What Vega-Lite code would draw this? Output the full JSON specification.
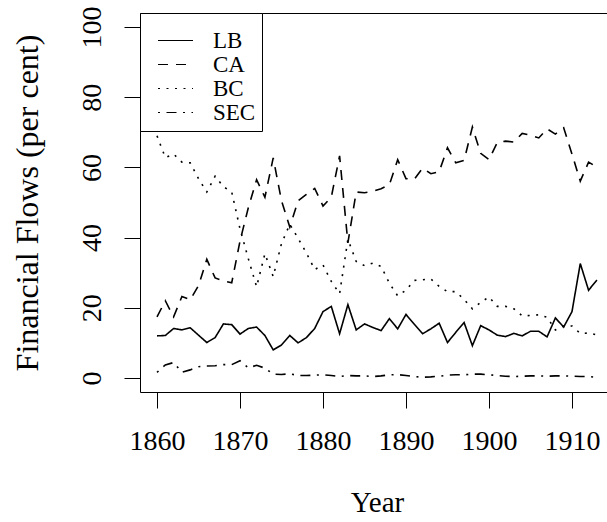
{
  "$schema": "https://vega.github.io/schema/vega-lite/v6.json",
  "width": 467,
  "height": 379,
  "autosize": {"type": "none"},
  "padding": {"left": 140, "top": 13, "right": 0, "bottom": 130},
  "background": "white",
  "config": {
    "view": {"stroke": null},
    "font": "Liberation Serif",
    "axis": {"grid": false, "domainColor": "black", "tickColor": "black", "labelColor": "black", "titleColor": "black", "titleFontWeight": "normal", "domainWidth": 1, "tickWidth": 1, "labelFont": "Liberation Serif", "titleFont": "Liberation Serif"},
    "legend": {"labelFont": "Liberation Serif", "titleFont": "Liberation Serif"},
    "style": {"guide-label": {"font": "Liberation Serif"}, "guide-title": {"font": "Liberation Serif"}}
  },
  "data": {"values": [
    {"year": 1860, "LB": 12.0, "CA": 17.4, "BC": 69.0, "SEC": 1.6},
    {"year": 1861, "LB": 12.1, "CA": 22.0, "BC": 62.8, "SEC": 3.7},
    {"year": 1862, "LB": 14.1, "CA": 17.4, "BC": 63.8, "SEC": 4.4},
    {"year": 1863, "LB": 13.7, "CA": 23.2, "BC": 61.5, "SEC": 1.6},
    {"year": 1864, "LB": 14.3, "CA": 22.3, "BC": 61.3, "SEC": 2.3},
    {"year": 1865, "LB": 12.2, "CA": 26.3, "BC": 56.8, "SEC": 3.2},
    {"year": 1866, "LB": 10.1, "CA": 33.8, "BC": 53.0, "SEC": 3.4},
    {"year": 1867, "LB": 11.5, "CA": 28.5, "BC": 57.5, "SEC": 3.5},
    {"year": 1868, "LB": 15.4, "CA": 27.7, "BC": 54.5, "SEC": 3.8},
    {"year": 1869, "LB": 15.2, "CA": 27.1, "BC": 53.0, "SEC": 3.8},
    {"year": 1870, "LB": 12.5, "CA": 39.0, "BC": 42.5, "SEC": 4.9},
    {"year": 1871, "LB": 14.1, "CA": 48.5, "BC": 34.0, "SEC": 2.9},
    {"year": 1872, "LB": 14.5, "CA": 56.5, "BC": 26.0, "SEC": 3.6},
    {"year": 1873, "LB": 12.1, "CA": 51.5, "BC": 35.4, "SEC": 2.8},
    {"year": 1874, "LB": 8.0, "CA": 62.7, "BC": 28.9, "SEC": 1.1},
    {"year": 1875, "LB": 9.4, "CA": 50.5, "BC": 38.3, "SEC": 1.0},
    {"year": 1876, "LB": 12.1, "CA": 43.0, "BC": 43.8, "SEC": 1.2},
    {"year": 1877, "LB": 10.0, "CA": 50.5, "BC": 39.8, "SEC": 0.7},
    {"year": 1878, "LB": 11.5, "CA": 52.3, "BC": 35.6, "SEC": 0.7},
    {"year": 1879, "LB": 14.1, "CA": 54.0, "BC": 30.9, "SEC": 0.8},
    {"year": 1880, "LB": 18.9, "CA": 49.0, "BC": 32.2, "SEC": 0.9},
    {"year": 1881, "LB": 20.4, "CA": 51.5, "BC": 27.5, "SEC": 0.7},
    {"year": 1882, "LB": 12.6, "CA": 63.3, "BC": 24.0, "SEC": 0.4},
    {"year": 1883, "LB": 20.9, "CA": 38.5, "BC": 39.5, "SEC": 0.7},
    {"year": 1884, "LB": 13.7, "CA": 53.0, "BC": 33.2, "SEC": 0.6},
    {"year": 1885, "LB": 15.4, "CA": 52.8, "BC": 32.0, "SEC": 0.6},
    {"year": 1886, "LB": 14.4, "CA": 53.2, "BC": 32.7, "SEC": 0.4},
    {"year": 1887, "LB": 13.5, "CA": 53.9, "BC": 31.8, "SEC": 0.6},
    {"year": 1888, "LB": 16.9, "CA": 55.1, "BC": 27.0, "SEC": 0.9},
    {"year": 1889, "LB": 14.0, "CA": 62.2, "BC": 23.4, "SEC": 0.95},
    {"year": 1890, "LB": 18.1, "CA": 56.8, "BC": 25.0, "SEC": 0.7},
    {"year": 1891, "LB": 15.3, "CA": 56.6, "BC": 27.8, "SEC": 0.4},
    {"year": 1892, "LB": 12.6, "CA": 59.8, "BC": 28.0, "SEC": 0.2},
    {"year": 1893, "LB": 14.0, "CA": 58.2, "BC": 28.2, "SEC": 0.3},
    {"year": 1894, "LB": 15.6, "CA": 58.8, "BC": 26.1, "SEC": 0.5},
    {"year": 1895, "LB": 10.1, "CA": 65.6, "BC": 24.6, "SEC": 0.8},
    {"year": 1896, "LB": 13.0, "CA": 61.3, "BC": 24.6, "SEC": 0.9},
    {"year": 1897, "LB": 15.8, "CA": 62.0, "BC": 22.4, "SEC": 0.9},
    {"year": 1898, "LB": 9.2, "CA": 71.5, "BC": 19.7, "SEC": 1.1},
    {"year": 1899, "LB": 14.9, "CA": 64.0, "BC": 21.5, "SEC": 1.1},
    {"year": 1900, "LB": 13.7, "CA": 62.2, "BC": 23.1, "SEC": 0.9},
    {"year": 1901, "LB": 12.2, "CA": 67.1, "BC": 20.4, "SEC": 0.7},
    {"year": 1902, "LB": 11.8, "CA": 67.5, "BC": 20.4, "SEC": 0.5},
    {"year": 1903, "LB": 12.7, "CA": 67.2, "BC": 19.7, "SEC": 0.4},
    {"year": 1904, "LB": 12.0, "CA": 69.7, "BC": 17.7, "SEC": 0.5},
    {"year": 1905, "LB": 13.3, "CA": 69.2, "BC": 17.8, "SEC": 0.6},
    {"year": 1906, "LB": 13.3, "CA": 68.4, "BC": 18.0, "SEC": 0.6},
    {"year": 1907, "LB": 11.7, "CA": 71.0, "BC": 17.3, "SEC": 0.5},
    {"year": 1908, "LB": 17.1, "CA": 69.5, "BC": 13.7, "SEC": 0.6},
    {"year": 1909, "LB": 14.5, "CA": 71.3, "BC": 14.8, "SEC": 0.6},
    {"year": 1910, "LB": 18.9, "CA": 63.8, "BC": 14.8, "SEC": 0.5},
    {"year": 1911, "LB": 32.6, "CA": 56.1, "BC": 12.7, "SEC": 0.4},
    {"year": 1912, "LB": 25.0, "CA": 61.5, "BC": 12.8, "SEC": 0.4},
    {"year": 1913, "LB": 27.9, "CA": 60.1, "BC": 12.3, "SEC": 0.2}
  ]},
  "transform": [{"fold": ["LB", "CA", "BC", "SEC"], "as": ["series", "value"]}],
  "layer": [
    {
      "mark": {"type": "line", "color": "black", "strokeWidth": 1.6},
      "encoding": {
        "x": {
          "field": "year", "type": "quantitative",
          "scale": {"domain": [1857.95, 1914.22], "nice": false, "zero": false},
          "axis": {"orient": "bottom", "values": [1860, 1870, 1880, 1890, 1900, 1910], "format": "d", "tickSize": 16, "labelFont": "Liberation Serif", "labelFontSize": 28, "labelPadding": 19, "labelBaseline": "top", "labelFlush": false, "labelOverlap": false, "title": "Year", "titleFont": "Liberation Serif", "titleFontSize": 29, "titleX": 237, "titleY": 119, "titleBaseline": "alphabetic", "titleAlign": "center"}
        },
        "y": {
          "field": "value", "type": "quantitative",
          "scale": {"domain": [-4, 104], "nice": false, "zero": false},
          "axis": {"values": [0, 20, 40, 60, 80, 100], "tickSize": 16, "labelFont": "Liberation Serif", "labelFontSize": 28, "labelAngle": -90, "labelAlign": "center", "labelBaseline": "alphabetic", "labelPadding": 24, "labelFlush": false, "labelOverlap": false, "title": "Financial Flows (per cent)", "titleFont": "Liberation Serif", "titleFontSize": 32, "titleAngle": -90, "titleX": -103, "titleY": 189.5, "titleBaseline": "alphabetic", "titleAlign": "center"}
        },
        "strokeDash": {
          "field": "series", "type": "nominal",
          "scale": {"domain": ["LB", "CA", "BC", "SEC"], "range": [[1, 0], [10, 8], [2, 6.5], [2, 6.5, 10, 6.5]]},
          "legend": {"title": "\u00a0", "titleFontSize": 8, "titlePadding": 2, "orient": "none", "legendX": 0, "legendY": 0, "symbolType": "stroke", "symbolSize": 1225, "symbolStrokeWidth": 1.2, "symbolStrokeColor": "black", "labelFont": "Liberation Serif", "labelFontSize": 23, "labelColor": "black", "padding": 6, "symbolOffset": 11, "labelOffset": 19, "clipHeight": 23, "rowPadding": 0, "fillColor": "white", "strokeColor": "black", "cornerRadius": 0}
        }
      }
    },
    {
      "mark": {"type": "line", "opacity": 0},
      "encoding": {
        "x": {
          "field": "year", "type": "quantitative",
          "scale": {"domain": [1857.95, 1914.22], "nice": false, "zero": false},
          "axis": {"orient": "top", "labels": false, "ticks": false, "title": null}
        },
        "y": {"field": "value", "type": "quantitative", "scale": {"domain": [-4, 104], "nice": false, "zero": false}},
        "detail": {"field": "series"}
      }
    }
  ],
  "resolve": {"axis": {"x": "independent"}}
}
